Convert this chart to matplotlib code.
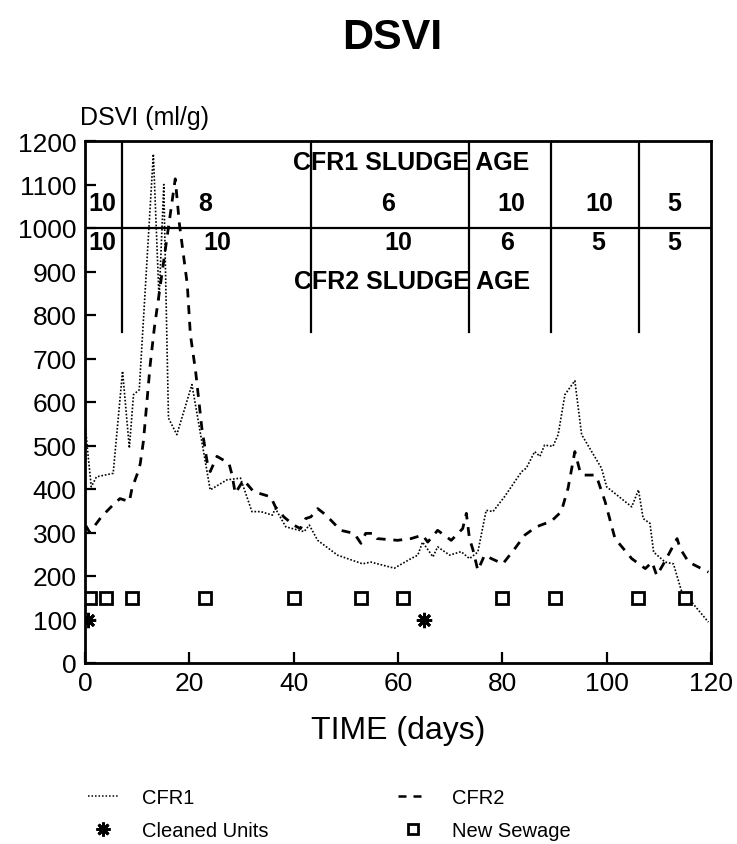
import matplotlib
matplotlib.use("Agg")
import matplotlib.pyplot as plt
from matplotlib.lines import Line2D

plt.rcParams['font.family'] = ['Liberation Sans', 'DejaVu Sans']

# --- data -----------------------------------------------------------------
cfr1_day = [0.0, 0.4, 1.2, 2.2, 5.4, 7.2, 8.5, 9.3, 10.4, 13.1, 14.2, 15.1, 16.0,
            17.6, 20.5, 24.0, 27.2, 29.8, 32.0, 33.7, 35.9, 36.5, 38.5, 42.0,
            43.0, 44.6, 48.4, 53.2, 54.8, 59.3, 62.5, 63.8, 64.7, 66.7, 67.6,
            69.9, 72.1, 73.7, 75.3, 76.9, 78.2, 80.4, 83.7, 84.6, 86.2, 87.2,
            88.1, 89.7, 90.7, 92.0, 93.9, 95.2, 99.0, 100.0, 104.8, 106.1,
            107.0, 108.3, 109.0, 111.2, 112.8, 114.4, 116.3, 119.5]
cfr1_dsvi = [560, 500, 405, 428, 436, 671, 494, 617, 628, 1170, 836, 1100, 563,
             525, 640, 398, 421, 425, 348, 348, 340, 355, 313, 302,
             317, 282, 248, 228, 232, 218, 240, 248, 278, 244, 267,
             248, 256, 240, 255, 351, 348, 382, 440, 448, 486, 475,
             501, 498, 525, 617, 649, 525, 448, 405, 359, 398,
             332, 321, 255, 232, 228, 163, 140, 94]

cfr2_day = [0.2, 0.9, 3.2, 5.1, 6.7, 8.5, 9.0, 10.3, 10.6, 11.2, 12.5, 13.3,
            17.3, 18.1, 19.6, 20.2, 21.2, 22.4, 23.4, 24.0, 25.3, 27.6, 28.2,
            28.8, 30.4, 32.3, 35.6, 36.5, 38.1, 40.0, 41.3, 42.3, 43.3, 44.6,
            46.2, 49.0, 51.6, 52.9, 53.8, 55.4, 56.0, 59.9, 62.5, 64.7, 65.7,
            67.6, 70.2, 72.4, 73.1, 73.7, 74.4, 75.3, 76.6, 77.9, 80.1, 82.4,
            84.3, 86.5, 89.4, 91.3, 92.6, 93.9, 94.9, 95.5, 97.8, 98.4, 99.7,
            101.6, 104.8, 107.4, 108.7, 109.6, 110.9, 113.5, 114.1, 115.7, 119.5]
cfr2_dsvi = [315, 300, 337, 360, 378, 371, 401, 444, 459, 510, 686, 771,
             1113, 1009, 871, 755, 671, 540, 463, 440, 475, 459, 432,
             390, 421, 394, 382, 359, 336, 317, 309, 332, 336, 355,
             340, 305, 298, 275, 298, 298, 286, 282, 286, 294, 278,
             305, 282, 309, 344, 286, 259, 213, 248, 240, 228, 263,
             294, 313, 326, 348, 402, 486, 440, 432, 432, 417, 371,
             286, 240, 217, 232, 201, 228, 286, 263, 232, 209]

sewage_day = [1, 4, 9, 23, 40, 53, 61, 80, 90, 106, 115]
sewage_level = 150
cleaned_day = [0.6, 65]
cleaned_level = 100

# sludge-age periods (days) and ages for each reactor
period_edges = [7.1, 43.3, 73.7, 89.4, 106.2]
cfr1_age = ['10', '8', '6', '10', '10', '5']
cfr2_age = ['10', '10', '10', '6', '5', '5']
cfr1_age_x = [3.3, 23.0, 58.0, 81.7, 98.6, 113.0]
cfr2_age_x = [3.3, 25.4, 60.0, 81.0, 98.4, 113.0]

# --- figure -----------------------------------------------------------------
fig = plt.figure(figsize=(7.37, 8.45), dpi=100)
ax = fig.add_axes([85 / 737, 1 - 664 / 845, 626 / 737, 522 / 845])

ax.plot(cfr1_day, cfr1_dsvi, color='black', lw=1.2, linestyle=(0, (1, 1.1)))
ax.plot(cfr2_day, cfr2_dsvi, color='black', lw=2.0, linestyle=(0, (3.2, 2.8)))
ax.plot(sewage_day, [sewage_level] * len(sewage_day), linestyle='none',
        marker='s', ms=8, mfc='white', mec='black', mew=2)
ax.plot(cleaned_day, [cleaned_level] * len(cleaned_day), linestyle='none',
        marker=(8, 2, 0), ms=11, mec='black', mew=2)

# sludge-age table drawn inside the plot
ax.axhline(1000, color='black', lw=1.6)
for d in period_edges:
    ax.plot([d, d], [760, 1195], color='black', lw=1.6)
for x, s in zip(cfr1_age_x, cfr1_age):
    ax.text(x, 1058, s, ha='center', va='center', fontsize=18, fontweight='bold')
for x, s in zip(cfr2_age_x, cfr2_age):
    ax.text(x, 968, s, ha='center', va='center', fontsize=18, fontweight='bold')
ax.text(62.5, 1152, 'CFR1 SLUDGE AGE', ha='center', va='center',
        fontsize=18, fontweight='bold')
ax.text(62.6, 878, 'CFR2 SLUDGE AGE', ha='center', va='center',
        fontsize=18, fontweight='bold')

ax.set_xlim(0, 120)
ax.set_ylim(0, 1200)
ax.set_xticks(range(0, 121, 20))
ax.set_yticks(range(0, 1201, 100))
ax.tick_params(direction='in', length=8, width=1.6, labelsize=19, pad=6)
for sp in ax.spines.values():
    sp.set_linewidth(2)

ax.set_xlabel('TIME (days)', fontsize=23, labelpad=14)
fig.text(80 / 737, 1 - 118 / 845, 'DSVI (ml/g)', fontsize=18, ha='left', va='center')
fig.text(392 / 737, 1 - 38 / 845, 'DSVI', fontsize=31, fontweight='bold',
         ha='center', va='center')

handles = [
    Line2D([], [], color='black', lw=1.1, linestyle=(0, (1, 1.3))),
    Line2D([], [], color='black', linestyle='none', marker=(8, 2, 0), ms=10, mew=2),
    Line2D([], [], color='black', lw=1.8, linestyle=(0, (3.2, 2.8))),
    Line2D([], [], color='black', linestyle='none', marker='s', ms=7,
           mfc='white', mec='black', mew=2),
]
labels = ['CFR1', 'Cleaned Units', 'CFR2', 'New Sewage']
fig.legend(handles, labels, ncol=2, loc='upper left', frameon=False,
           bbox_to_anchor=(88 / 737, 1 - 789 / 845), fontsize=14.5,
           handlelength=1.5, handletextpad=1.2, columnspacing=6.4,
           labelspacing=0.7, borderpad=0, borderaxespad=0)

fig.savefig('out.png', dpi=100)
